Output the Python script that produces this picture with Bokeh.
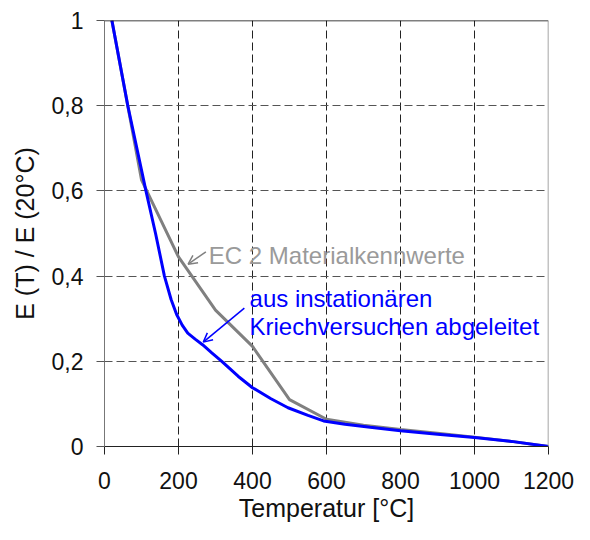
from bokeh.plotting import figure
from bokeh.models import FixedTicker, Span, Arrow, OpenHead, Label
from bokeh.embed import file_html
from bokeh.resources import INLINE

# EC 2 material values (grey)
temp_ec2 = [20, 100, 200, 300, 400, 500, 600, 700, 800, 900, 1000, 1100, 1200]
e_ec2 = [1.0, 0.626, 0.445, 0.32, 0.235, 0.11, 0.064, 0.05, 0.04, 0.031, 0.022, 0.012, 0.0]

# derived from transient creep tests (blue)
temp_creep = [20, 63, 112, 138, 162, 180, 195, 210, 225, 245, 265, 290, 317, 361, 400, 450, 496, 550, 592, 650, 718, 800, 900, 1000, 1100, 1200]
e_creep = [1.0, 0.80, 0.60, 0.50, 0.40, 0.345, 0.31, 0.285, 0.266, 0.252, 0.239, 0.22, 0.20, 0.165, 0.138, 0.112, 0.091, 0.073, 0.06, 0.052, 0.045, 0.037, 0.029, 0.021, 0.012, 0.0]

x_ticks = [0, 200, 400, 600, 800, 1000, 1200]
y_ticks = [0, 0.2, 0.4, 0.6, 0.8, 1.0]
y_tick_labels = ["0", "0,2", "0,4", "0,6", "0,8", "1"]

FONT = "Liberation Sans"

p = figure(width=574, height=524, x_range=(0, 1200), y_range=(0, 1),
           output_backend="svg", toolbar_location=None,
           min_border_left=104, min_border_right=26, min_border_top=20,
           min_border_bottom=0)
p.outline_line_color = None
p.background_fill_color = "white"

p.xaxis.ticker = FixedTicker(ticks=x_ticks)
p.yaxis.ticker = FixedTicker(ticks=y_ticks)
p.yaxis.major_label_overrides = {t: l for t, l in zip(y_ticks, y_tick_labels)}
p.xaxis.major_label_overrides = {t: str(t) for t in x_ticks}

for ax in (p.xaxis, p.yaxis):
    ax.major_label_text_font = FONT
    ax.major_label_text_font_size = "23px"
    ax.major_label_text_color = "#111111"
    ax.axis_label_text_font = FONT
    ax.axis_label_text_font_size = "25px"
    ax.axis_label_text_font_style = "normal"
    ax.axis_label_text_color = "#111111"
    ax.minor_tick_line_color = None
    ax.major_tick_out = 8
    ax.major_tick_in = 0

p.xaxis.axis_label = "Temperatur [°C]"
p.yaxis.axis_label = "E (T) / E (20°C)"
p.xaxis.axis_line_color = "#222222"
p.xaxis.major_tick_line_color = "#222222"
p.yaxis.axis_line_color = "#777777"
p.yaxis.major_tick_line_color = "#555555"
p.xaxis.major_label_standoff = 17
p.xaxis.axis_label_standoff = 2
p.yaxis.major_label_standoff = 13
p.yaxis.axis_label_standoff = 10

p.xgrid.grid_line_color = "#222222"
p.xgrid.grid_line_dash = "8 4"
p.xgrid.grid_line_width = 1
p.ygrid.grid_line_color = "#555555"
p.ygrid.grid_line_dash = "8 4"
p.ygrid.grid_line_width = 1

# frame borders: top black, right grey
p.add_layout(Span(location=1, dimension="width", line_color="black", line_width=1.5))
p.add_layout(Span(location=1200, dimension="height", line_color="#888888", line_width=1.5))

p.line(temp_ec2, e_ec2, line_color="#808080", line_width=3)
p.line(temp_creep, e_creep, line_color="#0000ff", line_width=3)

# annotations
p.add_layout(Label(x=282, y=0.448, text="EC 2 Materialkennwerte", text_font=FONT,
                   text_font_size="24px", text_color="#9a9a9a", text_baseline="alphabetic"))
p.add_layout(Arrow(x_start=274, y_start=0.457, x_end=226, y_end=0.428,
                   line_color="#808080", line_width=1.5,
                   end=OpenHead(size=9, line_color="#808080", line_width=1.5)))
p.add_layout(Label(x=392, y=0.348, text="aus instationären", text_font=FONT,
                   text_font_size="24px", text_color="#0000ff", text_baseline="alphabetic"))
p.add_layout(Label(x=392, y=0.282, text="Kriechversuchen abgeleitet", text_font=FONT,
                   text_font_size="24px", text_color="#0000ff", text_baseline="alphabetic"))
p.add_layout(Arrow(x_start=378, y_start=0.325, x_end=267, y_end=0.245,
                   line_color="#0000ff", line_width=1.5,
                   end=OpenHead(size=9, line_color="#0000ff", line_width=1.5)))

open("out.html", "w").write(file_html(p, INLINE))
